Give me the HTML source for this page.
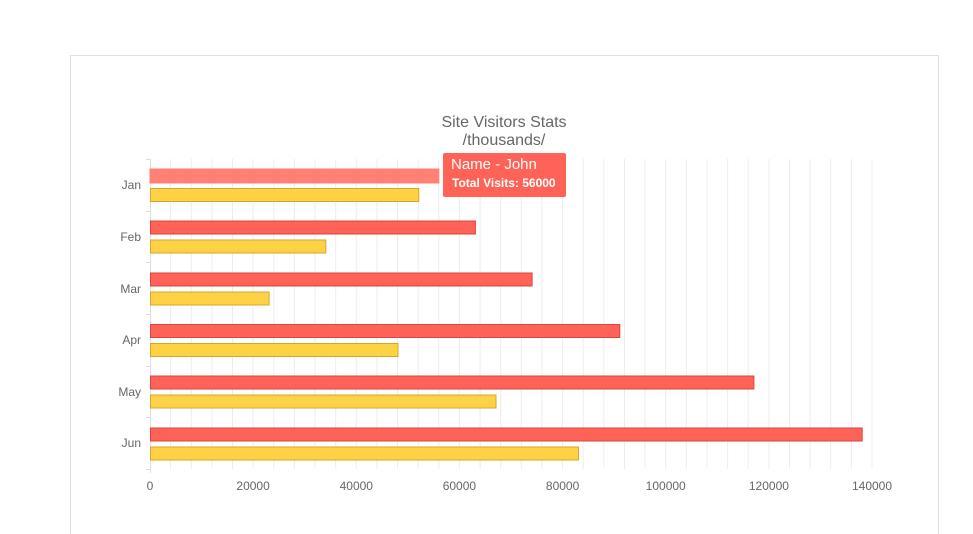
<!DOCTYPE html>
<html><head><meta charset="utf-8"><style>
html,body{margin:0;padding:0;background:#fff;width:973px;height:534px;overflow:hidden}
svg{display:block;font-family:"Liberation Sans",Arial,sans-serif}
</style></head><body>
<svg width="973" height="534" viewBox="0 0 973 534">
<rect x="70.5" y="55.5" width="868" height="490" fill="#fff" stroke="#e0e0e0"/>
<g stroke="#ececec" stroke-width="1">
<line x1="170.6" y1="159" x2="170.6" y2="469"/><line x1="191.3" y1="159" x2="191.3" y2="469"/><line x1="211.9" y1="159" x2="211.9" y2="469"/><line x1="232.5" y1="159" x2="232.5" y2="469"/><line x1="253.1" y1="159" x2="253.1" y2="469"/><line x1="273.8" y1="159" x2="273.8" y2="469"/><line x1="294.4" y1="159" x2="294.4" y2="469"/><line x1="315" y1="159" x2="315" y2="469"/><line x1="335.7" y1="159" x2="335.7" y2="469"/><line x1="356.3" y1="159" x2="356.3" y2="469"/><line x1="376.9" y1="159" x2="376.9" y2="469"/><line x1="397.5" y1="159" x2="397.5" y2="469"/><line x1="418.2" y1="159" x2="418.2" y2="469"/><line x1="438.8" y1="159" x2="438.8" y2="469"/><line x1="459.4" y1="159" x2="459.4" y2="469"/><line x1="480.1" y1="159" x2="480.1" y2="469"/><line x1="500.7" y1="159" x2="500.7" y2="469"/><line x1="521.3" y1="159" x2="521.3" y2="469"/><line x1="541.9" y1="159" x2="541.9" y2="469"/><line x1="562.6" y1="159" x2="562.6" y2="469"/><line x1="583.2" y1="159" x2="583.2" y2="469"/><line x1="603.8" y1="159" x2="603.8" y2="469"/><line x1="624.5" y1="159" x2="624.5" y2="469"/><line x1="645.1" y1="159" x2="645.1" y2="469"/><line x1="665.7" y1="159" x2="665.7" y2="469"/><line x1="686.3" y1="159" x2="686.3" y2="469"/><line x1="707" y1="159" x2="707" y2="469"/><line x1="727.6" y1="159" x2="727.6" y2="469"/><line x1="748.2" y1="159" x2="748.2" y2="469"/><line x1="768.9" y1="159" x2="768.9" y2="469"/><line x1="789.5" y1="159" x2="789.5" y2="469"/><line x1="810.1" y1="159" x2="810.1" y2="469"/><line x1="830.7" y1="159" x2="830.7" y2="469"/><line x1="851.4" y1="159" x2="851.4" y2="469"/><line x1="872" y1="159" x2="872" y2="469"/>
</g>
<g stroke="#ddd">
<line x1="150.5" y1="159" x2="150.5" y2="473"/>
<line x1="146" y1="159.5" x2="150" y2="159.5"/><line x1="146" y1="211.5" x2="150" y2="211.5"/><line x1="146" y1="262.5" x2="150" y2="262.5"/><line x1="146" y1="314.5" x2="150" y2="314.5"/><line x1="146" y1="366.5" x2="150" y2="366.5"/><line x1="146" y1="417.5" x2="150" y2="417.5"/><line x1="146" y1="469.5" x2="150" y2="469.5"/>
</g>
<g stroke-width="1">
<rect x="150" y="169" width="288.8" height="14" fill="#ff8075" stroke="#ff8075"/>
<rect x="150.5" y="188.5" width="268.2" height="13" fill="#ffd145" stroke="#d4a72c"/>
<rect x="150.5" y="221" width="324.9" height="13" fill="#ff6257" stroke="#d9463d"/>
<rect x="150.5" y="240" width="175.3" height="13" fill="#ffd145" stroke="#d4a72c"/>
<rect x="150.5" y="273" width="381.6" height="13" fill="#ff6257" stroke="#d9463d"/>
<rect x="150.5" y="292" width="118.6" height="13" fill="#ffd145" stroke="#d4a72c"/>
<rect x="150.5" y="324.5" width="469.3" height="13" fill="#ff6257" stroke="#d9463d"/>
<rect x="150.5" y="343.5" width="247.5" height="13" fill="#ffd145" stroke="#d4a72c"/>
<rect x="150.5" y="376" width="603.4" height="13" fill="#ff6257" stroke="#d9463d"/>
<rect x="150.5" y="395" width="345.5" height="13" fill="#ffd145" stroke="#d4a72c"/>
<rect x="150.5" y="428" width="711.7" height="13" fill="#ff6257" stroke="#d9463d"/>
<rect x="150.5" y="447" width="428" height="13" fill="#ffd145" stroke="#d4a72c"/>
</g>
<g fill="#666" font-size="12" text-anchor="end">
<text x="141" y="189">Jan</text><text x="141" y="241">Feb</text><text x="141" y="293">Mar</text><text x="141" y="344">Apr</text><text x="141" y="396">May</text><text x="141" y="447">Jun</text>
</g>
<g fill="#666" font-size="12" text-anchor="middle">
<text x="150" y="490">0</text><text x="253.1" y="490">20000</text><text x="356.3" y="490">40000</text><text x="459.4" y="490">60000</text><text x="562.6" y="490">80000</text><text x="665.7" y="490">100000</text><text x="768.9" y="490">120000</text><text x="872" y="490">140000</text>
</g>
<g fill="#666" font-size="16" text-anchor="middle">
<text x="504" y="127">Site Visitors Stats</text>
<text x="504" y="145">/thousands/</text>
</g>
<rect x="443" y="153" width="123" height="44" rx="2" fill="#ff6257"/>
<text x="451" y="169" fill="#fff" font-size="15">Name - John</text>
<text x="452" y="187" fill="#fff" font-size="12" font-weight="bold">Total Visits: 56000</text>
</svg>
</body></html>
